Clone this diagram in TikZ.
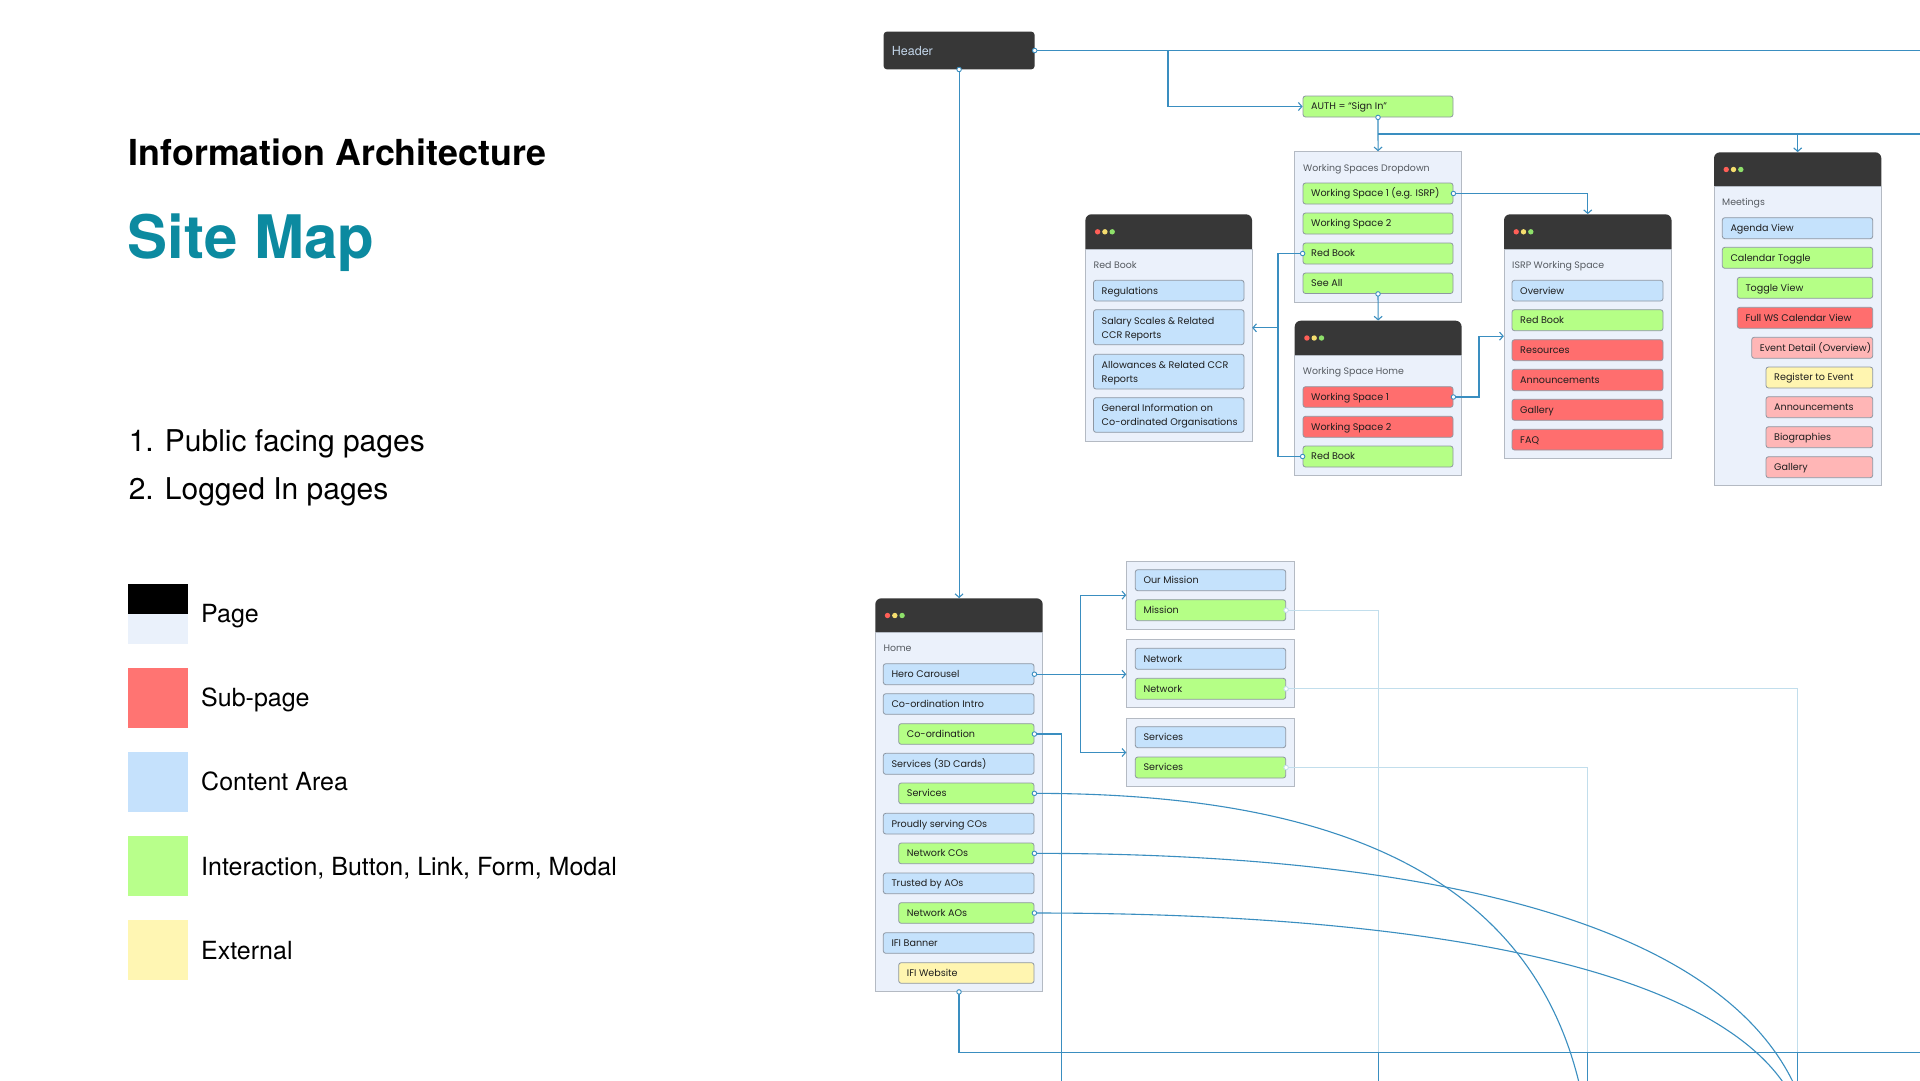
\documentclass[tikz,border=0pt]{standalone}
\usepackage{fontspec}
\setmainfont{TeX Gyre Heros}
\newfontfamily\popfont{Poppins}
\usetikzlibrary{arrows.meta}
\definecolor{linkblue}{HTML}{3A8EC0}
\definecolor{palelink}{HTML}{C2DEEC}
\definecolor{hdrc}{HTML}{373737}
\definecolor{hdrtext}{HTML}{C3D6EA}
\definecolor{pagebg}{HTML}{EBF1FB}
\definecolor{pagebd}{HTML}{B4BAC3}
\definecolor{boxbd}{HTML}{8E97A2}
\definecolor{boxtext}{HTML}{1E1E1E}
\definecolor{cblue}{HTML}{C5E2FC}
\definecolor{cgreen}{HTML}{B5FF86}
\definecolor{cred}{HTML}{FF6E6E}
\definecolor{cpink}{HTML}{FFB6B6}
\definecolor{cyellow}{HTML}{FFF5B0}
\definecolor{titleteal}{HTML}{0C8AA0}
\definecolor{labelgray}{HTML}{555A60}
\definecolor{dotr}{HTML}{FF5F57}
\definecolor{doty}{HTML}{F5DD6E}
\definecolor{dotg}{HTML}{8EE06A}
\definecolor{lgred}{HTML}{FF7472}
\definecolor{lgblue}{HTML}{C5E1FC}
\definecolor{lggreen}{HTML}{B8FF8B}
\definecolor{lgyellow}{HTML}{FFF6B3}
\definecolor{lgpage}{HTML}{EAF1FB}

% box: name x1 y1 x2 y2 style text
\newcommand\mkbox[7]{%
  \pgfmathsetmacro\mkW{#4-(#2)}%
  \pgfmathsetmacro\mkH{#5-(#3)}%
  \pgfmathsetmacro\mkX{(#2+#4)/2}%
  \pgfmathsetmacro\mkY{(#3+#5)/2}%
  \node[#6, minimum width=\mkW pt, minimum height=\mkH pt] (#1) at (\mkX,\mkY) {};%
  \node[txt] (#1t) at ({#2+8},{\mkY+3.4}) {#7};%
}
% two-line box: name x1 y1 x2 y2 style line1 line2
\newcommand\mkboxii[8]{%
  \pgfmathsetmacro\mkW{#4-(#2)}%
  \pgfmathsetmacro\mkH{#5-(#3)}%
  \pgfmathsetmacro\mkX{(#2+#4)/2}%
  \pgfmathsetmacro\mkY{(#3+#5)/2}%
  \node[#6, minimum width=\mkW pt, minimum height=\mkH pt] (#1) at (\mkX,\mkY) {};%
  \node[txt] (#1a) at ({#2+8},{\mkY-3.2}) {#7};%
  \node[txt] (#1b) at ({#2+8},{\mkY+10.8}) {#8};%
}
% page: name x1 y1 x2 y2 yheader label
\newcommand\mkpage[7]{%
  \fill[hdrc, rounded corners=6pt] (#2,#3) rectangle (#4,{#6+10});%
  \draw[draw=pagebd, fill=pagebg, line width=0.9pt] (#2,#6) rectangle (#4,#5);%
  \pgfmathsetmacro\mkD{(#3+#6)/2}%
  \fill[dotr] ({#2+12.2},\mkD) circle[radius=2.7pt];%
  \fill[doty] ({#2+19.5},\mkD) circle[radius=2.7pt];%
  \fill[dotg] ({#2+26.8},\mkD) circle[radius=2.7pt];%
  \node[lbl] (#1l) at ({#2+8},{#6+19}) {#7};%
  \pgfmathsetmacro\mkW{#4-(#2)}%
  \pgfmathsetmacro\mkH{#5-(#3)}%
  \pgfmathsetmacro\mkX{(#2+#4)/2}%
  \pgfmathsetmacro\mkY{(#3+#5)/2}%
  \node[inner sep=0pt, minimum width=\mkW pt, minimum height=\mkH pt] (#1) at (\mkX,\mkY) {};%
}
% container: name x1 y1 x2 y2
\newcommand\mkcont[5]{%
  \pgfmathsetmacro\mkW{#4-(#2)}%
  \pgfmathsetmacro\mkH{#5-(#3)}%
  \pgfmathsetmacro\mkX{(#2+#4)/2}%
  \pgfmathsetmacro\mkY{(#3+#5)/2}%
  \node[draw=pagebd, fill=pagebg, line width=0.9pt, inner sep=0pt, minimum width=\mkW pt, minimum height=\mkH pt] (#1) at (\mkX,\mkY) {};%
}

\begin{document}
\begin{tikzpicture}[x=1pt,y=-1pt,
  bx/.style={draw=boxbd, line width=0.8pt, rounded corners=2.5pt, inner sep=0pt},
  bblue/.style={bx, fill=cblue}, bgreen/.style={bx, fill=cgreen}, bred/.style={bx, fill=cred},
  bpink/.style={bx, fill=cpink}, byellow/.style={bx, fill=cyellow},
  hdrbx/.style={fill=hdrc, rounded corners=3pt, inner sep=0pt},
  txt/.style={anchor=base west, inner sep=0pt, font=\popfont\fontsize{9.6}{12}\selectfont, text=boxtext},
  lbl/.style={anchor=base west, inner sep=0pt, font=\popfont\fontsize{9.4}{12}\selectfont, text=labelgray},
  conn/.style={draw=linkblue, line width=1.1pt},
  pale/.style={draw=palelink, line width=1.1pt},
  arr/.style={-{Straight Barb[length=3.5pt,width=8pt,line width=1.1pt]}},
  port/.style={circle, draw=linkblue, fill=white, line width=0.9pt, inner sep=0pt, minimum size=4.5pt},
  paleport/.style={port, draw=palelink},
  sw/.style={inner sep=0pt, minimum width=60pt, minimum height=60pt, anchor=north west},
  lgtxt/.style={anchor=base west, inner sep=0pt, font=\fontsize{25}{29}\selectfont},
]
\useasboundingbox (0,0) rectangle (1920,1080);
\clip (0,0) rectangle (1920,1080);
\fill[white] (0,0) rectangle (1920,1080);

% ---------- left texts ----------
\node[anchor=base west, inner sep=0pt, font=\fontsize{35.8}{40}\selectfont\bfseries] (t1) at (128.6,165) {Information Architecture};
\node[anchor=base west, inner sep=0pt, font=\fontsize{60}{66}\selectfont\bfseries, text=titleteal] (t2) at (127.5,258.3) {Site Map};
\node[anchor=base west, inner sep=0pt, font=\fontsize{30}{34}\selectfont] (t3) at (128.6,451) {1. Public facing pages};
\node[anchor=base west, inner sep=0pt, font=\fontsize{30}{34}\selectfont] (t4) at (128.6,499) {2. Logged In pages};

% ---------- legend ----------
\node[sw, fill=black, minimum height=30pt] (lg1a) at (128,584) {};
\node[sw, fill=lgpage, minimum height=30pt] (lg1b) at (128,614) {};
\node[lgtxt] (lt1) at (201,622.7) {Page};
\node[sw, fill=lgred] (lg2) at (128,668) {};
\node[lgtxt] (lt2) at (201,706.7) {Sub-page};
\node[sw, fill=lgblue] (lg3) at (128,752) {};
\node[lgtxt] (lt3) at (201,790.7) {Content Area};
\node[sw, fill=lggreen] (lg4) at (128,836) {};
\node[lgtxt] (lt4) at (201,875) {Interaction, Button, Link, Form, Modal};
\node[sw, fill=lgyellow] (lg5) at (128,920) {};
\node[lgtxt] (lt5) at (201,959) {External};

% ---------- header & auth ----------
\node[hdrbx, minimum width=150.8pt, minimum height=37.6pt] (hdr) at (959.1,50.5) {};
\node[anchor=base west, inner sep=0pt, font=\fontsize{12.5}{14}\selectfont, text=hdrtext] (hdrt) at (891.7,55) {Header};
\mkbox{auth}{1303}{96}{1453}{117}{bgreen}{AUTH = “Sign In”}

% ---------- working spaces dropdown ----------
\mkcont{wsd}{1294.5}{151.7}{1461.6}{302}
\node[lbl] (wsdl) at (1303,171.5) {Working Spaces Dropdown};
\mkbox{ws1}{1303}{183}{1453}{204}{bgreen}{Working Space 1 (e.g. ISRP)}
\mkbox{ws2}{1303}{213}{1453}{234}{bgreen}{Working Space 2}
\mkbox{drb}{1303}{243}{1453}{264}{bgreen}{Red Book}
\mkbox{seeall}{1303}{273}{1453}{293.5}{bgreen}{See All}

% ---------- red book page ----------
\mkpage{rbp}{1085.4}{214.3}{1252}{441.3}{249.3}{Red Book}
\mkbox{rb1}{1093.5}{280.3}{1244}{301}{bblue}{Regulations}
\mkboxii{rb2}{1093.5}{309.7}{1244}{344.7}{bblue}{Salary Scales \& Related}{CCR Reports}
\mkboxii{rb3}{1093.5}{354.3}{1244}{389}{bblue}{Allowances \& Related CCR}{Reports}
\mkboxii{rb4}{1093.5}{397.7}{1244}{432.3}{bblue}{General Information on}{Co-ordinated Organisations}

% ---------- working space home ----------
\mkpage{wsh}{1294.7}{320.7}{1461.6}{475.3}{355.3}{Working Space Home}
\mkbox{hws1}{1303}{386.7}{1453}{407.3}{bred}{Working Space 1}
\mkbox{hws2}{1303}{416.3}{1453}{437.3}{bred}{Working Space 2}
\mkbox{hrb}{1303}{446}{1453}{467}{bgreen}{Red Book}

% ---------- ISRP working space ----------
\mkpage{isrp}{1504}{214.3}{1671.5}{458}{249.3}{ISRP Working Space}
\mkbox{is1}{1512}{280.3}{1663}{301}{bblue}{Overview}
\mkbox{is2}{1512}{309.7}{1663}{330.7}{bgreen}{Red Book}
\mkbox{is3}{1512}{339.7}{1663}{360.7}{bred}{Resources}
\mkbox{is4}{1512}{369.3}{1663}{390.7}{bred}{Announcements}
\mkbox{is5}{1512}{399.3}{1663}{420.3}{bred}{Gallery}
\mkbox{is6}{1512}{429.3}{1663}{450}{bred}{FAQ}

% ---------- meetings ----------
\mkpage{meet}{1714}{152.3}{1881.3}{485.3}{186.7}{Meetings}
\mkbox{m1}{1722.3}{217.7}{1872.7}{238.7}{bblue}{Agenda View}
\mkbox{m2}{1722.3}{247.3}{1872.7}{268.3}{bgreen}{Calendar Toggle}
\mkbox{m3}{1737.3}{277.3}{1872.7}{298.3}{bgreen}{Toggle View}
\mkbox{m4}{1737.3}{307.3}{1872.7}{328.3}{bred}{Full WS Calendar View}
\mkbox{m5}{1751.7}{337.3}{1872.7}{358.3}{bpink}{Event Detail (Overview)}
\mkbox{m6}{1766}{367}{1872.7}{388}{byellow}{Register to Event}
\mkbox{m7}{1766}{396.7}{1872.7}{417.7}{bpink}{Announcements}
\mkbox{m8}{1766}{426.7}{1872.7}{447.7}{bpink}{Biographies}
\mkbox{m9}{1766}{456.7}{1872.7}{477.7}{bpink}{Gallery}

% ---------- home ----------
\mkpage{home}{875.3}{598.3}{1042.7}{991.7}{632.7}{Home}
\mkbox{hero}{883.3}{663.7}{1034}{684.7}{bblue}{Hero Carousel}
\mkbox{cint}{883.3}{693.7}{1034}{714.3}{bblue}{Co-ordination Intro}
\mkbox{coord}{898.7}{723.7}{1034}{744.3}{bgreen}{Co-ordination}
\mkbox{s3d}{883.3}{753.3}{1034}{774.3}{bblue}{Services (3D Cards)}
\mkbox{hserv}{898.7}{783}{1034}{803.7}{bgreen}{Services}
\mkbox{pcos}{883.3}{813.3}{1034}{834}{bblue}{Proudly serving COs}
\mkbox{hnco}{898.7}{843}{1034}{863.7}{bgreen}{Network COs}
\mkbox{taos}{883.3}{873}{1034}{893.7}{bblue}{Trusted by AOs}
\mkbox{hnao}{898.7}{902.7}{1034}{923.3}{bgreen}{Network AOs}
\mkbox{ifib}{883.3}{932.7}{1034}{953.3}{bblue}{IFI Banner}
\mkbox{ifiw}{898.7}{962.7}{1034}{983.3}{byellow}{IFI Website}

% ---------- containers right of home ----------
\mkcont{misc}{1126.7}{561.3}{1294}{629}
\mkbox{omis}{1135.3}{569.7}{1285.7}{590.7}{bblue}{Our Mission}
\mkbox{mis}{1135.3}{599.7}{1285.7}{620.7}{bgreen}{Mission}
\mkcont{netc}{1126.7}{639.3}{1294}{707.3}
\mkbox{netb}{1135.3}{648.3}{1285.7}{669.3}{bblue}{Network}
\mkbox{netg}{1135.3}{678.3}{1285.7}{699.3}{bgreen}{Network}
\mkcont{servc}{1126.7}{718.3}{1294}{786.7}
\mkbox{servb}{1135.3}{726.7}{1285.7}{747.7}{bblue}{Services}
\mkbox{servg}{1135.3}{757}{1285.7}{778}{bgreen}{Services}

% ---------- coordinates ----------
\coordinate (topR) at (1920,50.5);
\coordinate (b1) at (1168,50.5);
\coordinate (b2) at (1378,134);
\coordinate (r2) at (1920,134);
\coordinate (b3) at (1278,300);
\coordinate (b4) at (1479,300);
\coordinate (b5) at (1080.7,700);
\coordinate (e1) at (1061.7,1090);
\coordinate (vA) at (1378.4,1090);
\coordinate (vB) at (1587.6,1090);
\coordinate (vC) at (1797.5,1090);
\coordinate (hb) at (1920,1052.7);
\coordinate (jA) at (1378.4,1052.7);
\coordinate (jB) at (1587.6,1052.7);
\coordinate (jC) at (1797.5,1052.7);
\coordinate (cv1) at (1592,1200);
\coordinate (cv2) at (1815,1180);
\coordinate (cv3) at (1808,1160);

% ---------- pale connectors ----------
\draw[pale] (mis.east) -| (vA);
\draw[pale] (netg.east) -| (vC);
\draw[pale] (servg.east) -| (vB);

% ---------- connectors ----------
\draw[conn] (hdr.east) -- (topR);
\draw[conn, arr] (b1) |- (auth.west);
\draw[conn, arr] (hdr.south) -- (hdr.south |- home.north);
\draw[conn, arr] (auth.south) -- (wsd.north);
\draw[conn] (b2) -- (r2);
\draw[conn, arr] (b2 -| meet.north) -- (meet.north);
\draw[conn, arr] (ws1.east) -| (isrp.north);
\draw[conn] (drb.west) -- (drb.west -| b3) -- (hrb.west -| b3) -- (hrb.west);
\draw[conn, arr] (rbp.east -| b3) -- (rbp.east);
\draw[conn, arr] (seeall.south) -- (wsh.north);
\draw[conn, arr] (hws1.east) -- (hws1.east -| b4) -- (isrp.west -| b4) -- (isrp.west);
\draw[conn, arr] (hero.east) -- (hero.east -| netc.west);
\draw[conn, arr] (hero.east -| b5) |- (misc.west);
\draw[conn, arr] (hero.east -| b5) |- (servc.west);
\draw[conn] (coord.east) -| (e1);
\draw[conn] (hserv.east) .. controls (1384,793.3) and (1592,905) .. (cv1);
\draw[conn] (hnco.east) .. controls (1450,853.3) and (1815,930) .. (cv2);
\draw[conn] (hnao.east) .. controls (1450,913) and (1808,975) .. (cv3);
\draw[conn] (home.south) |- (hb);
\draw[conn] (jA) -- (vA);
\draw[conn] (jB) -- (vB);
\draw[conn] (jC) -- (vC);

% ---------- ports ----------
\node[port] (p1) at (hdr.east) {};
\node[port] (p2) at (hdr.south) {};
\node[port] (p3) at (auth.south) {};
\node[port] (p4) at (ws1.east) {};
\node[port] (p5) at (drb.west) {};
\node[port] (p6) at (seeall.south) {};
\node[port] (p7) at (hws1.east) {};
\node[port] (p8) at (hrb.west) {};
\node[port] (p9) at (hero.east) {};
\node[port] (p10) at (coord.east) {};
\node[port] (p11) at (hserv.east) {};
\node[port] (p12) at (hnco.east) {};
\node[port] (p13) at (hnao.east) {};
\node[port] (p14) at (home.south) {};
\node[paleport] (p15) at (mis.east) {};
\node[paleport] (p16) at (netg.east) {};
\node[paleport] (p17) at (servg.east) {};
\end{tikzpicture}
\end{document}
